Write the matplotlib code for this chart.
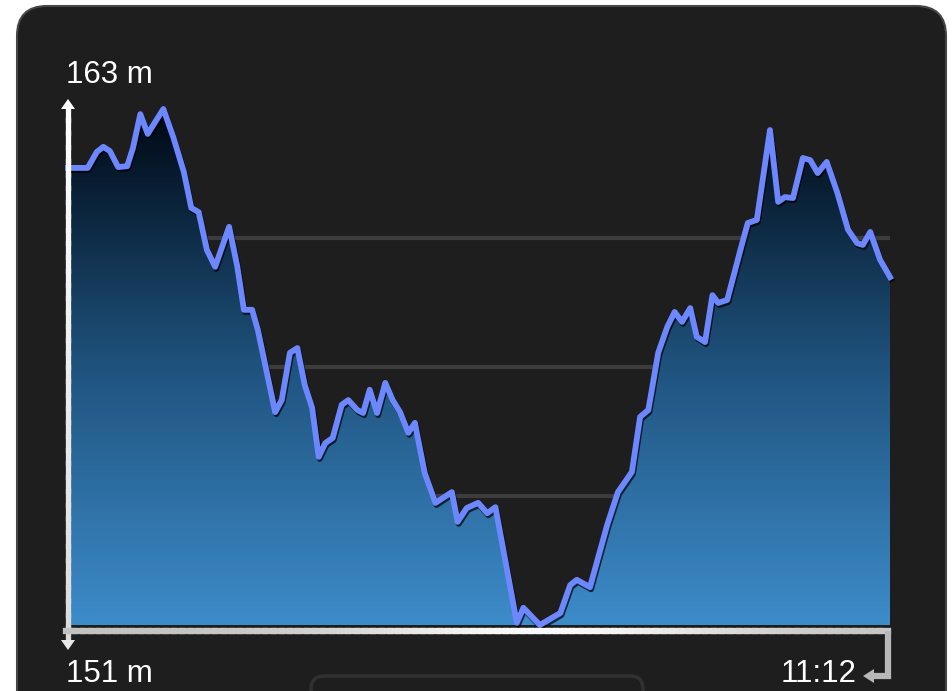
import matplotlib.pyplot as plt
import matplotlib.patheffects as pe
import numpy as np
from matplotlib.patches import FancyBboxPatch, Polygon
from matplotlib.colors import LinearSegmentedColormap
from matplotlib.collections import LineCollection

# elevation profile, position along the track in % of total
t_pct = [0, 2.4, 3.5, 4.3, 5.1, 6.1, 7.2, 7.9, 8.8, 9.7,
         11.6, 12.8, 14.1, 15.0, 15.9, 16.9, 17.9, 19.6, 20.6, 21.4,
         22.4, 23.1, 24.2, 25.2, 26.0, 27.0, 27.9, 28.8, 29.7, 30.5,
         31.3, 32.2, 33.3, 34.1, 35.2, 35.9, 36.7, 37.6, 38.6, 39.5,
         40.4, 41.4, 42.2, 43.4, 44.7, 46.7, 47.4, 48.5, 49.9, 51.0,
         52.0, 54.6, 55.4, 57.4, 59.9, 61.1, 61.9, 63.5, 65.6, 66.9,
         68.6, 69.6, 70.6, 71.8, 72.9, 73.8, 74.7, 75.7, 76.5, 77.5,
         78.4, 79.1, 80.2, 81.8, 82.7, 83.8, 85.4, 86.4, 87.2, 88.2,
         89.4, 90.3, 91.2, 92.3, 93.6, 94.9, 96.0, 96.7, 97.6, 98.8,
         100]
alt_m = [161.63, 161.63, 162.00, 162.12, 162.02, 161.65, 161.67, 162.09, 162.88, 162.42,
         163.00, 162.35, 161.53, 160.70, 160.60, 159.72, 159.33, 160.26, 159.33, 158.33,
         158.33, 157.86, 156.86, 155.95, 156.23, 157.33, 157.44, 156.58, 156.05, 154.91,
         155.23, 155.35, 156.12, 156.23, 156.00, 155.93, 156.47, 155.93, 156.63, 156.23,
         155.95, 155.47, 155.70, 154.53, 153.84, 154.09, 153.40, 153.72, 153.84, 153.60,
         153.74, 151.05, 151.40, 151.00, 151.28, 151.93, 152.05, 151.88, 153.33, 154.09,
         154.56, 155.84, 156.00, 157.33, 157.93, 158.28, 158.05, 158.37, 157.70, 157.58,
         158.67, 158.49, 158.56, 159.72, 160.35, 160.42, 162.51, 160.84, 160.95, 160.93,
         161.86, 161.81, 161.51, 161.77, 161.05, 160.19, 159.88, 159.84, 160.14, 159.49,
         159.09]
grid_m = [154, 157, 160]
y_min, y_max = 151, 163
label_top = "163 m"
label_bottom = "151 m"
label_time = "11:12"

W, H = 952, 691
fig = plt.figure(figsize=(W / 100, H / 100), dpi=100, facecolor='white')

# background panel, in pixel coords
bg = fig.add_axes([0, 0, 1, 1])
bg.set_xlim(0, W)
bg.set_ylim(H, 0)
bg.axis('off')
bg.add_patch(FancyBboxPatch((17, 6), 929, 740, boxstyle='round,pad=0,rounding_size=30',
                            fc='#1e1e1e', ec='#464646', lw=1.5))
bg.add_patch(FancyBboxPatch((311, 676), 332, 40, boxstyle='round,pad=0,rounding_size=13',
                            fc='#1e1e1e', ec='#313131', lw=2.5))

# chart axes
ax = fig.add_axes([68 / W, 1 - 625 / H, 822 / W, 516 / H])
ax.set_xlim(0, 100)
ax.set_ylim(y_min, y_max)
ax.axis('off')
ax.patch.set_alpha(0)

ax.hlines(grid_m, 0, 100, color='#3c3c3c', lw=3, zorder=1)

cmap = LinearSegmentedColormap.from_list('elev', [(0, '#3d8cca'), (0.5, '#1f537e'), (1, '#000813')])
grad = np.linspace(0, 1, 256).reshape(-1, 1)
im = ax.imshow(grad, extent=[0, 100, y_min, y_max], origin='lower', aspect='auto',
               cmap=cmap, zorder=2)
verts = [(t_pct[0], y_min)] + list(zip(t_pct, alt_m)) + [(t_pct[-1], y_min)]
poly = Polygon(verts, closed=True, fc='none', ec='none')
ax.add_patch(poly)
im.set_clip_path(poly)

ax.plot(t_pct, alt_m, color='#6d88ff', lw=4.2, solid_joinstyle='round', zorder=3, clip_on=False,
        path_effects=[pe.SimpleLineShadow(offset=(0.8, -1.5), shadow_color='black', alpha=0.7),
                      pe.Normal()])

# overlay for axis arrows and labels
top = fig.add_axes([0, 0, 1, 1])
top.set_xlim(0, W)
top.set_ylim(H, 0)
top.axis('off')
top.patch.set_alpha(0)

# vertical axis with arrows
ys = np.linspace(106, 642, 40)
pts = np.column_stack([np.full_like(ys, 68), ys]).reshape(-1, 1, 2)
seg = np.concatenate([pts[:-1], pts[1:]], axis=1)
shade = np.linspace(1.0, 0.86, len(seg))
top.add_collection(LineCollection(seg, colors=[(s, s, s) for s in shade], lw=3.8,
                                  capstyle='projecting', zorder=5))
top.add_patch(Polygon([(61, 109), (75, 109), (68, 99)], closed=True, fc='white', ec='none', zorder=5))
top.add_patch(Polygon([(61, 640), (75, 640), (68, 650)], closed=True, fc='#e8e8e8', ec='none', zorder=5))

# horizontal axis with return arrow
xs = np.linspace(66, 888, 100)
pts = np.column_stack([xs, np.full_like(xs, 631)]).reshape(-1, 1, 2)
seg = np.concatenate([pts[:-1], pts[1:]], axis=1)
mid = (xs[:-1] - 66) / 822
shade = 0.76 + 0.22 * np.exp(-((mid - 0.58) / 0.25) ** 2)
top.add_collection(LineCollection(seg, colors=[(s, s, s) for s in shade], lw=4.5,
                                  capstyle='projecting', zorder=5))
top.plot([888, 888, 872], [631, 676, 676], color='#b8b8b8', lw=4.5, solid_joinstyle='miter',
         solid_capstyle='butt', zorder=5)
top.add_patch(Polygon([(874, 669), (874, 683), (863, 676)], closed=True, fc='#b8b8b8', ec='none', zorder=5))

font = 'Liberation Sans'
top.text(66, 75, label_top, color='white', fontsize=22.5, family=font, ha='left', va='center')
top.text(66, 674, label_bottom, color='white', fontsize=22.5, family=font, ha='left', va='center')
top.text(857, 674, label_time, color='white', fontsize=22.5, family=font, ha='right', va='center')

fig.savefig('out.png', dpi=100, facecolor='white')
